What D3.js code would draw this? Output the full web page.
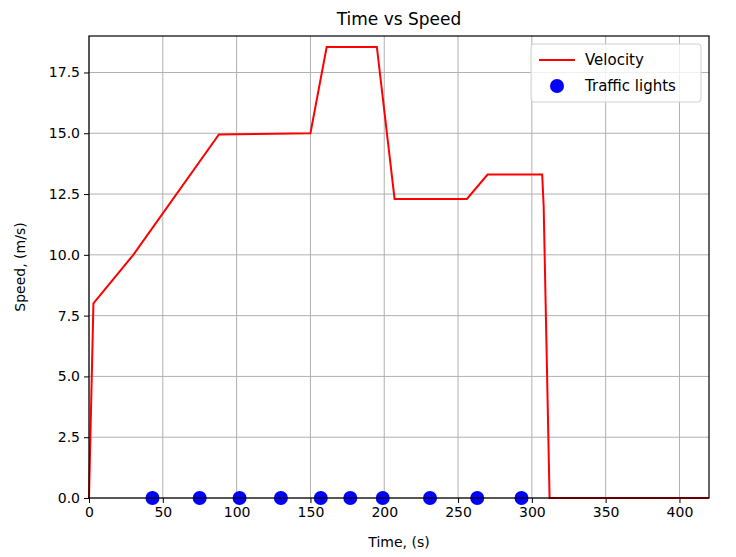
<!DOCTYPE html>
<html><head><meta charset="utf-8">
<script src="https://cdn.jsdelivr.net/npm/d3@7"></script>
<style>body{margin:0;background:#fff}text{font-family:"DejaVu Sans",sans-serif}</style>
</head><body><svg width="736" height="557"></svg>
<script>
var timeVals = [0, 3, 30, 88, 150, 161, 195, 207, 256, 270, 307, 308, 312, 420];
var speedVals = [0, 8, 10, 14.95, 15, 18.55, 18.55, 12.3, 12.3, 13.3, 13.3, 12, 0, 0];
var lightTimes = [43, 75, 102, 130, 157, 177, 199, 231, 263, 293];
var xTicks = [0, 50, 100, 150, 200, 250, 300, 350, 400];
var yTicks = [0, 2.5, 5, 7.5, 10, 12.5, 15, 17.5];

var svg = d3.select('svg');
var m = {l: 89, r: 709, t: 36, b: 498};
var x = d3.scaleLinear().domain([0, 420]).range([m.l, m.r]);
var y = d3.scaleLinear().domain([0, 19]).range([m.b, m.t]);

// grid
svg.append('g').selectAll('line').data(xTicks).enter().append('line')
    .attr('x1', d => x(d)).attr('x2', d => x(d)).attr('y1', m.t).attr('y2', m.b)
    .style('stroke', '#b0b0b0').style('stroke-width', 1);
svg.append('g').selectAll('line').data(yTicks).enter().append('line')
    .attr('y1', d => y(d)).attr('y2', d => y(d)).attr('x1', m.l).attr('x2', m.r)
    .style('stroke', '#b0b0b0').style('stroke-width', 1);

var xa = svg.append('g').attr('transform', 'translate(0,' + m.b + ')')
    .call(d3.axisBottom(x).tickValues(xTicks).tickSize(5).tickSizeOuter(0).tickPadding(4));
var ya = svg.append('g').attr('transform', 'translate(' + m.l + ',0)')
    .call(d3.axisLeft(y).tickValues(yTicks).tickFormat(d3.format('.1f')).tickSize(5).tickSizeOuter(0).tickPadding(4));
[xa, ya].forEach(function (a) {
    a.selectAll('text').style('font-size', '14px').style('fill', '#000');
    a.select('.domain').remove();
});

var line = d3.line().x((d, i) => x(timeVals[i])).y(d => y(d));
svg.append('path').datum(speedVals).attr('d', line)
    .style('fill', 'none').style('stroke', 'red').style('stroke-width', 2);

svg.append('g').selectAll('circle').data(lightTimes).enter().append('circle')
    .attr('cx', d => x(d)).attr('cy', y(0)).attr('r', 7).style('fill', 'blue');

svg.append('rect').attr('x', m.l).attr('y', m.t).attr('width', m.r - m.l).attr('height', m.b - m.t)
    .style('fill', 'none').style('stroke', '#000').style('stroke-width', 1.2);

svg.append('text').attr('x', (m.l + m.r) / 2).attr('y', 25).attr('text-anchor', 'middle')
    .style('font-size', '17px').text('Time vs Speed');
svg.append('text').attr('x', (m.l + m.r) / 2).attr('y', 547).attr('text-anchor', 'middle')
    .style('font-size', '14px').text('Time, (s)');
svg.append('text').attr('transform', 'translate(25,' + (m.t + m.b) / 2 + ') rotate(-90)')
    .attr('text-anchor', 'middle').style('font-size', '14px').text('Speed, (m/s)');

// legend
var lg = svg.append('g').attr('transform', 'translate(531,44)');
lg.append('rect').attr('width', 170).attr('height', 58).attr('rx', 3)
    .style('fill', 'rgba(255,255,255,0.8)').style('stroke', '#d0d0d0');
lg.append('line').attr('x1', 8).attr('x2', 44).attr('y1', 16).attr('y2', 16)
    .style('stroke', 'red').style('stroke-width', 2);
lg.append('circle').attr('cx', 26).attr('cy', 42).attr('r', 7).style('fill', 'blue');
lg.append('text').attr('x', 54).attr('y', 21).style('font-size', '15px').text('Velocity');
lg.append('text').attr('x', 54).attr('y', 47).style('font-size', '15px').text('Traffic lights');
</script></body></html>
